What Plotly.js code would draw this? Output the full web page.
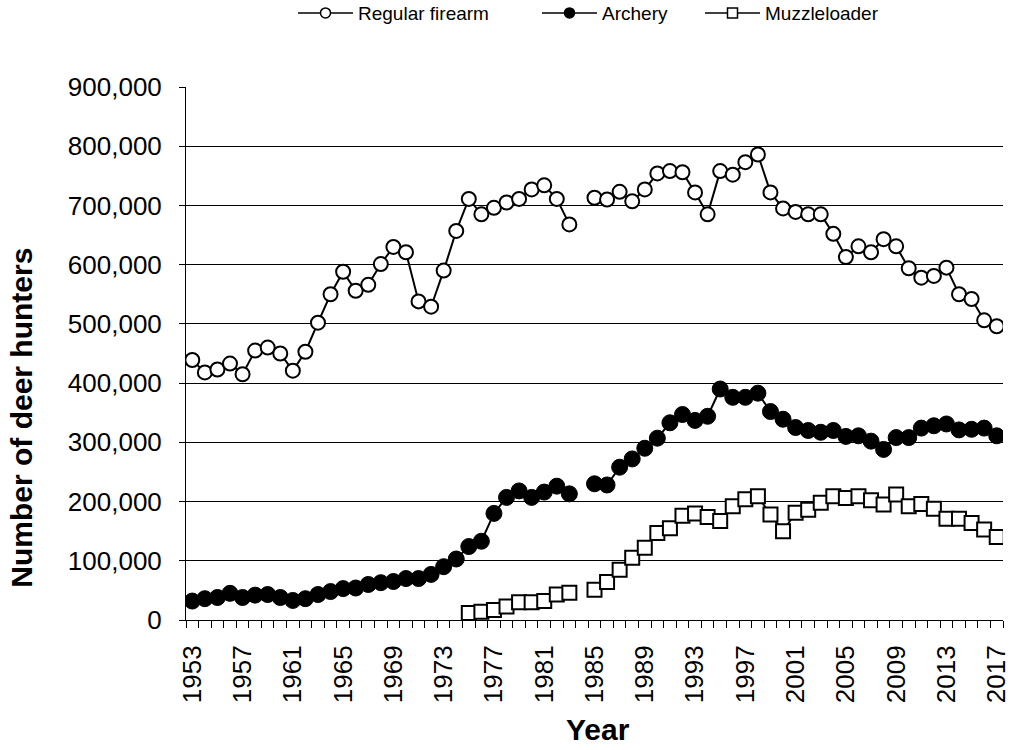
<!DOCTYPE html>
<html>
<head>
<meta charset="utf-8">
<script src="https://cdn.plot.ly/plotly-3.0.1.min.js"></script>
<style>html,body{margin:0;padding:0;background:#fff;}#chart{width:1013px;height:750px;}</style>
</head>
<body>
<div id="chart"></div>
<script>
const years = [];
for (let y = 1953; y <= 2017; y++) years.push(y);

// values in thousands of hunters
const regularFirearm = [439,418,423,433,415,455,460,450,421,453,502,550,588,556,566,601,630,621,538,529,590,657,711,685,696,705,711,727,734,711,668,null,713,710,723,707,727,754,758,756,722,685,758,752,773,786,722,695,689,685,685,652,613,631,621,643,631,594,578,581,595,550,542,506,496];
const archery = [32,36,38,45,38,42,43,38,33,36,43,48,53,54,60,63,65,70,70,77,90,103,124,133,180,207,218,207,216,226,213,null,230,228,258,272,290,307,333,347,337,344,390,376,376,383,352,339,325,320,317,320,310,311,302,288,308,308,324,328,331,321,322,324,311];
const muzzleloader = [null,null,null,null,null,null,null,null,null,null,null,null,null,null,null,null,null,null,null,null,null,null,12,14,17,23,30,30,32,43,46,null,51,64,85,105,122,147,155,176,180,174,167,192,204,209,178,150,181,186,198,209,206,209,202,195,212,192,196,188,171,171,164,153,140];

const seriesNames = ['Regular firearm', 'Archery', 'Muzzleloader'];
const labelYears = [];
for (let y = 1953; y <= 2017; y += 4) labelYears.push(y);
const xTitle = 'Year';
const yTitle = 'Number of deer hunters';

const k = v => v.map(x => x === null ? null : x * 1000);

const styles = [
  {symbol: 'circle', fill: '#fff', size: 14, lw: 2},
  {symbol: 'circle', fill: '#000', size: 16, lw: 1},
  {symbol: 'square', fill: '#fff', size: 14, lw: 2}
];
const dataSets = [regularFirearm, archery, muzzleloader];
const legendIds = ['legend', 'legend2', 'legend3'];

const traces = [];
dataSets.forEach((d, i) => {
  traces.push({x: years, y: k(d), name: seriesNames[i], showlegend: false, type: 'scatter', mode: 'lines+markers', connectgaps: false,
    line: {color: '#000', width: 2},
    marker: {symbol: styles[i].symbol, size: styles[i].size, color: styles[i].fill, line: {color: '#000', width: styles[i].lw}}});
});
// legend entries (smaller symbols, as in the reference legend)
dataSets.forEach((d, i) => {
  traces.push({x: [null], y: [null], name: seriesNames[i], legend: legendIds[i], showlegend: true, type: 'scatter', mode: 'lines+markers',
    line: {color: '#000', width: 1.5},
    marker: {symbol: styles[i].symbol, size: 10, color: styles[i].fill, line: {color: '#000', width: 1.5}}});
});

const legY = 1 + (87 + 6) / 533.5;
const legBase = {orientation: 'h', xref: 'container', yref: 'paper', xanchor: 'left', y: legY, yanchor: 'top',
  font: {size: 19, color: '#000'}, itemwidth: 55, bgcolor: 'rgba(0,0,0,0)', borderwidth: 0};

const layout = {
  width: 1013, height: 750,
  margin: {l: 186, r: 10, t: 87, b: 129.5, autoexpand: false},
  paper_bgcolor: '#fff', plot_bgcolor: '#fff',
  font: {family: 'Liberation Sans, Arial, sans-serif', color: '#000'},
  showlegend: true,
  legend: Object.assign({}, legBase, {x: 293 / 1013}),
  legend2: Object.assign({}, legBase, {x: 537 / 1013}),
  legend3: Object.assign({}, legBase, {x: 700 / 1013}),
  xaxis: {
    range: [1952.5, 2017.5], tickvals: labelYears, ticktext: labelYears.map(String),
    tickangle: -90, tickfont: {size: 26}, ticks: '', showgrid: false, zeroline: false,
    showline: true, linecolor: '#000', linewidth: 1, ticklabelstandoff: 14, automargin: false,
    minor: {tick0: 1952.5, dtick: 1, ticks: 'outside', ticklen: 7, tickcolor: '#000', showgrid: false}
  },
  yaxis: {
    range: [0, 900000], dtick: 100000, tickformat: ',d', tickfont: {size: 26},
    ticks: 'outside', ticklen: 6, tickcolor: '#000', ticklabelstandoff: 12, automargin: false,
    showgrid: true, gridcolor: '#000', gridwidth: 1, zeroline: false,
    showline: true, linecolor: '#000', linewidth: 1
  },
  annotations: [
    {text: '<b>' + xTitle + '</b>', xref: 'paper', yref: 'paper', x: 0.504, y: -0.2053, xanchor: 'center', yanchor: 'middle',
     showarrow: false, font: {size: 30, color: '#000'}},
    {text: '<b>' + yTitle + '</b>', xref: 'paper', yref: 'paper', x: -0.2007, y: 0.3796, xanchor: 'center', yanchor: 'middle',
     textangle: -90, showarrow: false, font: {size: 30, color: '#000'}}
  ]
};

Plotly.newPlot('chart', traces, layout, {displayModeBar: false, staticPlot: true});
</script>
</body>
</html>
